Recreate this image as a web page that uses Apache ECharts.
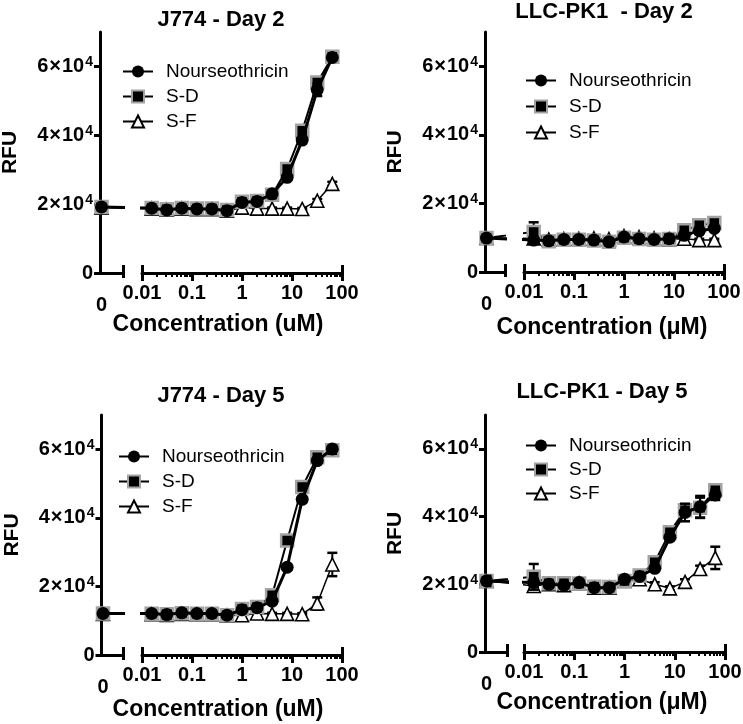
<!DOCTYPE html>
<html><head><meta charset="utf-8">
<script src="https://cdn.jsdelivr.net/npm/echarts@6/dist/echarts.min.js"></script>
<style>html,body{margin:0;padding:0;background:#fff}#c{width:743px;height:724px}</style>
</head><body><div id="c"></div>
<script>
// ---------- data ----------
const conc = [0, 0.015625, 0.03125, 0.0625, 0.125, 0.25, 0.5, 1, 2, 4, 8, 16, 32, 64];
const seriesNames = ['Nourseothricin', 'S-D', 'S-F'];
const panelTitles = ['J774 - Day 2', 'LLC-PK1  - Day 2', 'J774 - Day 5', 'LLC-PK1 - Day 5'];
const xTitles = ['Concentration (uM)', 'Concentration (\u03bcM)', 'Concentration (uM)', 'Concentration (\u03bcM)'];
const yTitle = 'RFU';
const xTickValues = [0.01, 0.1, 1, 10, 100];
const xTickLabels = ['0.01', '0.1', '1', '10', '100'];
const zeroTickLabel = '0';
const yTickValues = [0, 20000, 40000, 60000];
const yTickLabels = ['0', '2\u00d710^4', '4\u00d710^4', '6\u00d710^4'];
const yMax = 70000;

// J774 - Day 2
const j774d2Nour    = [19200, 18800, 18300, 18800, 18600, 18600, 18100, 20500, 20800, 23000, 27800, 38600, 53200, 62600];
const j774d2NourErr = [0, 300, 900, 300, 200, 200, 400, 400, 300, 500, 700, 900, 1800, 600];
const j774d2SD      = [19200, 18900, 18500, 18900, 18700, 18700, 18300, 20700, 20900, 22700, 30200, 41300, 55300, 62800];
const j774d2SDErr   = [0, 200, 300, 200, 200, 200, 300, 300, 300, 400, 500, 600, 800, 500];
const j774d2SF      = [19000, 18700, 18400, 18700, 18500, 18500, 18100, 19000, 18700, 18700, 18700, 18600, 21000, 25900];
const j774d2SFErr   = [0, 200, 300, 200, 200, 200, 300, 400, 300, 300, 300, 300, 500, 600];
// LLC-PK1 - Day 2
const llcd2Nour     = [9900, 9300, 9100, 9500, 9500, 9300, 8800, 10200, 9700, 9500, 9700, 10700, 12000, 12700];
const llcd2NourErr  = [0, 600, 1000, 400, 400, 300, 800, 500, 400, 400, 1200, 500, 600, 600];
const llcd2SD       = [9900, 11700, 9000, 9400, 9400, 9200, 8800, 10000, 9600, 9400, 9600, 12200, 13600, 14300];
const llcd2SDErr    = [0, 2800, 600, 300, 300, 300, 400, 300, 300, 300, 400, 700, 600, 500];
const llcd2SF       = [9900, 9800, 9500, 9600, 9700, 9800, 9600, 10500, 10200, 9800, 9600, 9700, 9300, 9300];
const llcd2SFErr    = [0, 300, 300, 300, 300, 300, 300, 300, 300, 300, 300, 400, 400, 400];
// J774 - Day 5
const j774d5Nour    = [12100, 12100, 11800, 12300, 12100, 12100, 11600, 13200, 13800, 15700, 25600, 45400, 56700, 60100];
const j774d5NourErr = [0, 300, 1100, 300, 300, 300, 500, 500, 500, 600, 700, 800, 700, 500];
const j774d5SD      = [12100, 12000, 11900, 12200, 12000, 12000, 11600, 13400, 14000, 17400, 33400, 49000, 57700, 59700];
const j774d5SDErr   = [0, 300, 400, 300, 300, 300, 400, 400, 400, 500, 600, 700, 600, 500];
const j774d5SF      = [12000, 11900, 11700, 12000, 11900, 11900, 11500, 11600, 12100, 12000, 12000, 11900, 15000, 26400];
const j774d5SFErr   = [0, 300, 300, 300, 300, 300, 300, 400, 300, 300, 300, 300, 1800, 3400];
// LLC-PK1 - Day 5
const llcd5Nour     = [21000, 20500, 20000, 19700, 20500, 19000, 19000, 21500, 22300, 24700, 33900, 41200, 42900, 46400];
const llcd5NourErr  = [1500, 1200, 1000, 500, 500, 500, 600, 500, 700, 800, 900, 2600, 3200, 1500];
const llcd5SD       = [21000, 22200, 20300, 20300, 20200, 19300, 19200, 21000, 22600, 26500, 35400, 41900, 42600, 47800];
const llcd5SDErr    = [1500, 3800, 700, 500, 500, 500, 500, 500, 700, 800, 900, 1500, 3000, 1200];
const llcd5SF       = [21000, 19500, 20000, 19700, 20300, 19000, 19000, 21000, 21500, 20000, 18800, 20700, 24500, 27800];
const llcd5SFErr    = [1000, 800, 500, 500, 500, 500, 500, 500, 600, 600, 600, 800, 1000, 3300];

// ---------- layout / style ----------
const FONT = '"Liberation Sans", Arial, Helvetica, sans-serif';
const layouts = [
  {ax: 100,   se: 123, ls: 142, le: 342, top: 32,  y0: 273, title: [221, 20],  xt: [218, 325], leg: [122, 62, 6]},
  {ax: 485,   se: 505, ls: 524, le: 724, top: 32,  y0: 272, title: [604, 12],  xt: [602, 328], leg: [525, 71, 7]},
  {ax: 101.5, se: 123, ls: 142, le: 342, top: 415, y0: 655, title: [221, 396], xt: [218, 710], leg: [118, 447, 6]},
  {ax: 485,   se: 507, ls: 524, le: 725, top: 415, y0: 652, title: [602, 392], xt: [602, 703], leg: [525, 436, 5]}
];
const panelData = [
  {nour: j774d2Nour, nourErr: j774d2NourErr, sd: j774d2SD, sdErr: j774d2SDErr, sf: j774d2SF, sfErr: j774d2SFErr},
  {nour: llcd2Nour,  nourErr: llcd2NourErr,  sd: llcd2SD,  sdErr: llcd2SDErr,  sf: llcd2SF,  sfErr: llcd2SFErr},
  {nour: j774d5Nour, nourErr: j774d5NourErr, sd: j774d5SD, sdErr: j774d5SDErr, sf: j774d5SF, sfErr: j774d5SFErr},
  {nour: llcd5Nour,  nourErr: llcd5NourErr,  sd: llcd5SD,  sdErr: llcd5SDErr,  sf: llcd5SF,  sfErr: llcd5SFErr}
];
const styles = {
  'Nourseothricin': {symbol: 'circle', size: 13, item: {color: '#000'}, line: {color: '#000', width: 3}, z: 5},
  'S-D': {symbol: 'rect', size: 12, item: {color: '#000', borderColor: '#a3a3a3', borderWidth: 2.5}, line: {color: '#000', width: 2}, z: 4},
  'S-F': {symbol: 'triangle', size: 13, item: {color: '#fff', borderColor: '#000', borderWidth: 1.6}, line: {color: '#000', width: 1.5}, z: 3}
};

const minorTicks = [];
for (let k = -2; k < 2; k++) for (let m = 2; m <= 9; m++) minorTicks.push(Math.log10(m) + k);
const majorTicks = xTickValues.map(v => Math.log10(v));

function renderErr(params, api) {
  const e = api.value(2);
  if (!e) return null;
  const x = api.value(0), y = api.value(1);
  const p1 = api.coord([x, y + e]), p2 = api.coord([x, y - e]);
  const hw = 5;
  return {type: 'group', children: [
    {type: 'line', shape: {x1: p1[0], y1: p1[1], x2: p2[0], y2: p2[1]}, style: {stroke: '#000', lineWidth: 2}},
    {type: 'line', shape: {x1: p1[0] - hw, y1: p1[1], x2: p1[0] + hw, y2: p1[1]}, style: {stroke: '#000', lineWidth: 2.5}},
    {type: 'line', shape: {x1: p2[0] - hw, y1: p2[1], x2: p2[0] + hw, y2: p2[1]}, style: {stroke: '#000', lineWidth: 2.5}}
  ]};
}

const grid = [], xAxis = [], yAxis = [], series = [], legend = [], graphic = [];
const tickFont = {fontSize: 20, fontWeight: 'bold', fontFamily: FONT, color: '#000'};
const yLabFont = {fontSize: 20, fontWeight: 'bold', fontFamily: FONT, color: '#000', lineHeight: 23};

layouts.forEach((L, i) => {
  const D = panelData[i];
  const dpx = (L.le - L.ls) / 4;
  const smallMax = -2 - (L.ls - L.se) / dpx;
  const smallMin = smallMax - (L.se - L.ax) / dpx;
  const zeroPos = smallMin + 1.5 / dpx;
  const pos = c => c > 0 ? Math.log10(c) : zeroPos;
  const h = L.y0 - L.top;

  const gS = grid.length;
  grid.push({left: L.ax, top: L.top, width: L.se - L.ax, height: h, outerBoundsMode: 'none', containLabel: false});
  const gM = grid.length;
  grid.push({left: L.ls, top: L.top, width: L.le - L.ls, height: h, outerBoundsMode: 'none', containLabel: false});

  const ySi = yAxis.length;
  yAxis.push({
    type: 'value', gridIndex: gS, min: 0, max: yMax,
    name: yTitle, nameLocation: 'middle', nameGap: 79,
    nameTextStyle: {fontSize: 21, fontWeight: 'bold', fontFamily: FONT, color: '#000'},
    axisLine: {show: true, lineStyle: {color: '#000', width: 3}},
    axisTick: {show: true, customValues: yTickValues, length: 6, lineStyle: {color: '#000', width: 3}},
    axisLabel: {
      customValues: yTickValues, margin: 7,
      formatter: v => {
        const s = yTickLabels[yTickValues.indexOf(v)] || '';
        const parts = s.split('^');
        if (parts.length < 2) return '{b|' + parts[0] + '}';
        const m = parts[0].split('\u00d7');
        return '{b|' + m[0] + '}{x|\u00d7}{b|' + m[1] + '}{sup|' + parts[1] + '}';
      },
      rich: {
        b: yLabFont,
        x: Object.assign({}, yLabFont, {padding: [0, 1, 0, 1]}),
        sup: {fontSize: 14, fontWeight: 'bold', fontFamily: FONT, color: '#000', verticalAlign: 'top', lineHeight: 14, padding: [0, 0, 0, 1]}
      }
    },
    splitLine: {show: false}
  });
  const yMi = yAxis.length;
  yAxis.push({type: 'value', gridIndex: gM, min: 0, max: yMax, show: false, splitLine: {show: false}});

  const xSi = xAxis.length;
  xAxis.push({
    type: 'value', gridIndex: gS, min: smallMin, max: smallMax, position: 'bottom', offset: 0,
    axisLine: {show: true, onZero: false, lineStyle: {color: '#000', width: 3}},
    axisTick: {show: true, customValues: [smallMax], length: 5, lineStyle: {color: '#000', width: 3}},
    axisLabel: {show: true, customValues: [zeroPos], formatter: () => zeroTickLabel, margin: 22, ...tickFont},
    splitLine: {show: false}
  });
  xAxis.push({
    type: 'value', gridIndex: gS, min: smallMin, max: smallMax, position: 'bottom', offset: 0,
    axisLine: {show: false, onZero: false},
    axisTick: {show: true, inside: true, customValues: [smallMax], length: 8, lineStyle: {color: '#000', width: 3}},
    axisLabel: {show: false}, splitLine: {show: false}
  });
  const xMi = xAxis.length;
  xAxis.push({
    type: 'value', gridIndex: gM, min: -2, max: 2, position: 'bottom', offset: 0,
    axisLine: {show: true, onZero: false, lineStyle: {color: '#000', width: 3}},
    axisTick: {show: true, customValues: majorTicks, length: 8, lineStyle: {color: '#000', width: 3}},
    axisLabel: {
      show: true, customValues: majorTicks, margin: 10, ...tickFont,
      formatter: v => {
        let best = 0;
        majorTicks.forEach((t, k) => { if (Math.abs(t - v) < Math.abs(majorTicks[best] - v)) best = k; });
        return xTickLabels[best];
      }
    },
    splitLine: {show: false}
  });
  xAxis.push({
    type: 'value', gridIndex: gM, min: -2, max: 2, position: 'bottom', offset: 0,
    axisLine: {show: false, onZero: false},
    axisTick: {show: true, customValues: minorTicks, length: 4, lineStyle: {color: '#000', width: 2}},
    axisLabel: {show: false}, splitLine: {show: false}
  });
  xAxis.push({
    type: 'value', gridIndex: gM, min: -2, max: 2, position: 'bottom', offset: 0,
    axisLine: {show: false, onZero: false},
    axisTick: {show: true, inside: true, customValues: [majorTicks[0], majorTicks[majorTicks.length - 1]], length: 8, lineStyle: {color: '#000', width: 3}},
    axisLabel: {show: false}, splitLine: {show: false}
  });

  const sets = [
    ['S-F', D.sf, D.sfErr],
    ['S-D', D.sd, D.sdErr],
    ['Nourseothricin', D.nour, D.nourErr]
  ];
  [[xSi, ySi], [xMi, yMi]].forEach(([xi, yi]) => {
    sets.forEach(([name, vals, errs]) => {
      const st = styles[name];
      series.push({
        type: 'custom', name: name + ' err', xAxisIndex: xi, yAxisIndex: yi, clip: true, silent: true,
        z: st.z - 0.5, renderItem: renderErr,
        encode: {x: 0, y: 1},
        data: conc.map((c, k) => [pos(c), vals[k], errs[k]])
      });
      series.push({
        type: 'line', name: name, xAxisIndex: xi, yAxisIndex: yi, clip: true,
        symbol: st.symbol, symbolSize: st.size, showAllSymbol: true,
        itemStyle: st.item, lineStyle: st.line, z: st.z,
        emphasis: {disabled: true}, silent: true,
        data: conc.map((c, k) => [pos(c), vals[k]])
      });
    });
  });

  legend.push({
    left: L.leg[0], top: L.leg[1], orient: 'vertical', itemGap: L.leg[2], padding: 0,
    itemWidth: 30, itemHeight: 15, selectedMode: false,
    data: seriesNames,
    textStyle: {fontSize: 19, fontFamily: FONT, color: '#000', lineHeight: 19, padding: [0, 0, 0, 8]}
  });

  graphic.push({
    type: 'text', x: L.title[0], y: L.title[1],
    style: {text: panelTitles[i], fill: '#000', fontSize: 22, fontWeight: 'bold', fontFamily: FONT,
            textAlign: 'center', textVerticalAlign: 'middle', align: 'center', verticalAlign: 'middle'}
  });
  graphic.push({
    type: 'text', x: L.xt[0], y: L.xt[1],
    style: {text: xTitles[i], fill: '#000', fontSize: 23, fontWeight: 'bold', fontFamily: FONT,
            textAlign: 'center', textVerticalAlign: 'middle', align: 'center', verticalAlign: 'middle'}
  });
});

const chart = echarts.init(document.getElementById('c'), null, {renderer: 'canvas'});
chart.setOption({
  animation: false,
  backgroundColor: '#fff',
  textStyle: {fontFamily: FONT},
  grid, xAxis, yAxis, series, legend, graphic
});
</script>
</body></html>
